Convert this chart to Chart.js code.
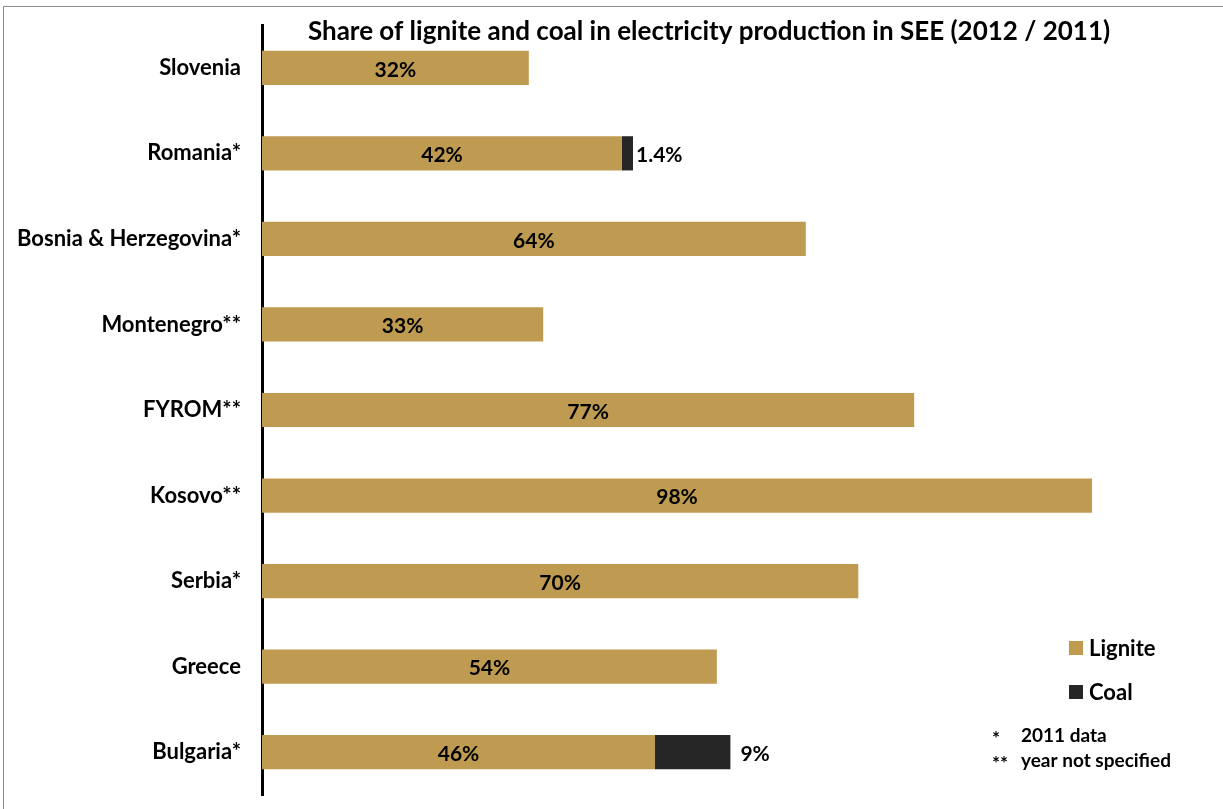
<!DOCTYPE html>
<html>
<head>
<meta charset="utf-8">
<script src="https://cdn.jsdelivr.net/npm/chart.js@4.4.1/dist/chart.umd.min.js"></script>
<style>
  body { margin: 0; background: #fff; }
  #wrap { position: relative; width: 1223px; height: 809px; overflow: hidden; }
  #frame { position: absolute; left: 3px; top: 6px; width: 1300px; height: 900px; border: 1px solid #8c8c8c; }
  canvas { position: absolute; left: 0; top: 0; }
</style>
</head>
<body>
<div id="wrap">
  <div id="frame"></div>
  <canvas id="chart" width="1223" height="809"></canvas>
</div>
<script>
const countries = ['Slovenia', 'Romania*', 'Bosnia & Herzegovina*', 'Montenegro**', 'FYROM**', 'Kosovo**', 'Serbia*', 'Greece', 'Bulgaria*'];
// bar lengths; printed labels are the rounded figures
const lignite = [31.5, 42.5, 64.2, 33.2, 77, 98, 70.4, 53.7, 46.4];
const coal = [0, 1.3, 0, 0, 0, 0, 0, 0, 8.9];
const ligniteLabels = ['32%', '42%', '64%', '33%', '77%', '98%', '70%', '54%', '46%'];
const coalLabels = ['', '1.4%', '', '', '', '', '', '', '9%'];
const footnoteMarks = ['*', '**'];
const footnotes = ['2011 data', 'year not specified'];

const FONT = 'Lato, "Open Sans", sans-serif';

const labelsPlugin = {
    id: 'labelsPlugin',
    afterDatasetsDraw(chart) {
        const ctx = chart.ctx;
        ctx.save();
        ctx.fillStyle = '#000';
        ctx.font = `bold 21px ${FONT}`;
        ctx.textBaseline = 'middle';
        chart.getDatasetMeta(0).data.forEach((bar, i) => {
            ctx.textAlign = 'center';
            ctx.fillText(ligniteLabels[i], (bar.x + bar.base) / 2, bar.y + 2);
        });
        chart.getDatasetMeta(1).data.forEach((bar, i) => {
            if (!coalLabels[i]) return;
            ctx.textAlign = 'left';
            ctx.fillText(coalLabels[i], bar.x + (coal[i] < 5 ? 3 : 10), bar.y + 2);
        });
        ctx.restore();
    },
    afterDraw(chart) {
        const ctx = chart.ctx;
        ctx.save();
        ctx.fillStyle = '#000';
        ctx.textBaseline = 'middle';
        ctx.textAlign = 'center';
        ctx.font = `bold 26px ${FONT}`;
        ctx.fillText('Share of lignite and coal in electricity production in SEE (2012 / 2011)', 709, 32);

        // legend
        const items = [['Lignite', chart.data.datasets[0].backgroundColor, 648], ['Coal', chart.data.datasets[1].backgroundColor, 692]];
        ctx.textAlign = 'left';
        ctx.font = `bold 22px ${FONT}`;
        items.forEach(([name, color, y]) => {
            ctx.fillStyle = color;
            ctx.fillRect(1069, y - 7, 14, 14);
            ctx.fillStyle = '#000';
            ctx.fillText(name, 1089, y + 1);
        });

        ctx.font = `bold 19px ${FONT}`;
        ctx.fillText(footnoteMarks[0], 992, 739);
        ctx.fillText(footnotes[0], 1021, 736);
        ctx.fillText(footnoteMarks[1], 992, 764);
        ctx.fillText(footnotes[1], 1021, 761);
        ctx.restore();
    }
};

new Chart(document.getElementById('chart'), {
    type: 'bar',
    data: {
        labels: countries,
        datasets: [
            { label: 'Lignite', data: lignite, backgroundColor: '#BE9B50', barPercentage: 0.8, categoryPercentage: 0.5 },
            { label: 'Coal', data: coal, backgroundColor: '#262626', barPercentage: 0.8, categoryPercentage: 0.5 }
        ]
    },
    options: {
        indexAxis: 'y',
        responsive: false,
        animation: false,
        layout: { padding: { top: 25, right: 114, bottom: 14, left: 0 } },
        plugins: {
            legend: { display: false },
            title: { display: false },
            tooltip: { enabled: false }
        },
        scales: {
            x: { stacked: true, display: false, min: 0, max: 100 },
            y: {
                stacked: true,
                grid: { display: false, drawTicks: false },
                border: { color: '#000', width: 3 },
                ticks: { color: '#000', padding: 21, font: { family: FONT, size: 22, weight: 'bold' } },
                afterFit(scale) {
                    scale.width = 262;
                    scale.paddingTop = 0;
                    scale.paddingBottom = 0;
                }
            }
        }
    },
    plugins: [labelsPlugin]
});
</script>
</body>
</html>
